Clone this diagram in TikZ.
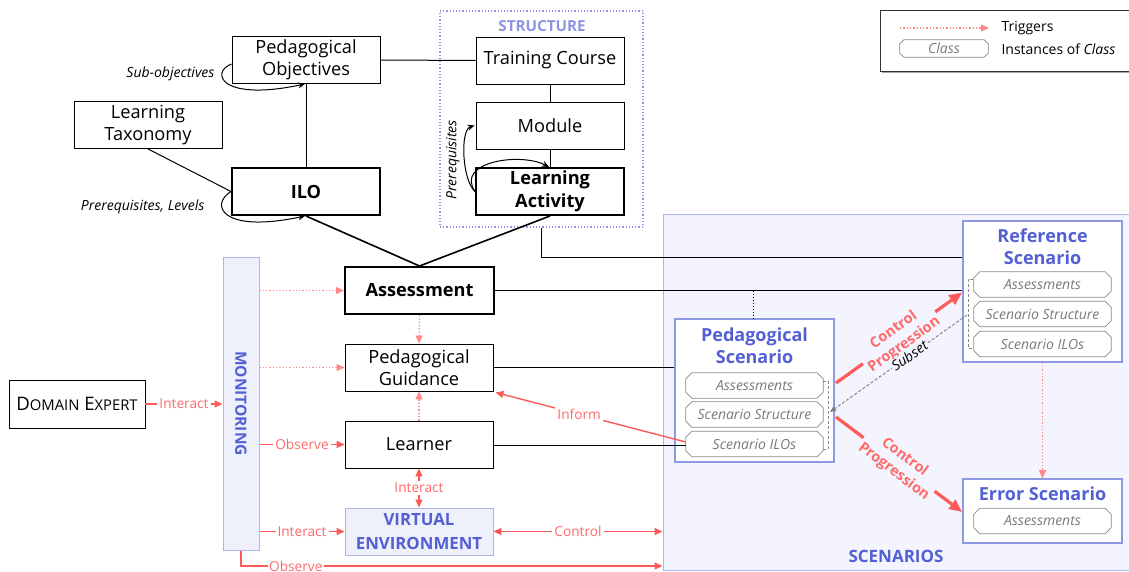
\documentclass[tikz,border=0pt]{standalone}
\usepackage{fontspec}
\setmainfont{Open Sans}
\usetikzlibrary{arrows.meta}
\definecolor{redl}{HTML}{FF5A5A}
\definecolor{redt}{HTML}{FF6B6B}
\definecolor{pinkd}{HTML}{FF8A8A}
\definecolor{blt}{HTML}{5360D4}
\definecolor{bls}{HTML}{8C94E4}
\definecolor{scbg}{HTML}{F3F4FD}
\definecolor{scbd}{HTML}{AEB5EE}
\definecolor{monbg}{HTML}{EEF0FC}
\definecolor{psbd}{HTML}{8E99E3}
\definecolor{tagbd}{HTML}{8A8A8A}
\definecolor{tagtx}{HTML}{7A7A7A}
\newcommand\tagdraw[2][6pt]{\draw[tagline] ([xshift=#1]#2.north west) -- ([xshift=-#1]#2.north east) -- ([yshift=-#1]#2.north east) -- ([yshift=#1]#2.south east) -- ([xshift=-#1]#2.south east) -- ([xshift=#1]#2.south west) -- ([yshift=#1]#2.south west) -- ([yshift=-#1]#2.north west) -- cycle;}
\begin{document}
\begin{tikzpicture}[x=1pt,y=-1pt,
  mainfont/.style={font=\fontsize{18.2}{22.5}\selectfont},
  box/.style={draw, line width=0.9pt, minimum width=148pt, minimum height=47pt, inner sep=0pt, align=center, mainfont},
  thickbox/.style={box, line width=2pt, font=\fontsize{18.2}{22.5}\selectfont\bfseries},
  blk/.style={line width=1pt},
  thk/.style={line width=1.6pt},
  loop/.style={line width=1pt, -{Stealth[length=7pt,width=6pt]}},
  ital/.style={font=\fontsize{14}{16}\selectfont\itshape},
  tag/.style={minimum width=137pt, minimum height=25pt, inner sep=0pt, font=\fontsize{14}{16}\selectfont\itshape, text=tagtx},
  tagline/.style={draw=tagbd, line width=0.8pt},
  scbox/.style={draw=psbd, line width=1.6pt, fill=white, inner sep=0pt},
  sctitle/.style={font=\fontsize{18}{22}\selectfont\bfseries, text=blt, align=center, inner sep=0pt},
  rarr/.style={draw=redl, line width=1.4pt, -{Triangle[length=8pt,width=7pt]}},
  rarr2/.style={draw=redl, line width=1.4pt, {Triangle[length=8pt,width=7pt]}-{Triangle[length=8pt,width=7pt]}},
  rlab/.style={font=\fontsize{13.7}{16}\selectfont, text=redt, inner sep=2pt},
  trig/.style={draw=pinkd, line width=1.3pt, dotted, -{Triangle[length=8pt,width=7pt]}},
  cprog/.style={draw=redl, line width=3.2pt, -{Triangle[length=13pt,width=11pt]}},
  cplab/.style={font=\fontsize{14.5}{18}\selectfont\bfseries, text=redt, align=center, sloped, fill=scbg, inner sep=2pt}
]
\useasboundingbox (0,0) rectangle (1129,572);

% containers
\node[draw=scbd, fill=scbg, line width=1pt, minimum width=468pt, minimum height=356pt, inner sep=0pt] (scen) at (897,392.5) {};
\node[font=\fontsize{17}{20}\selectfont\bfseries, text=blt] (scenlab) at (896,556) {SCENARIOS};
\node[draw=bls, dotted, line width=1.2pt, minimum width=203pt, minimum height=216pt, inner sep=0pt] (struct) at (541.5,119) {};
\node[font=\fontsize{15.2}{18}\selectfont\bfseries, text=bls] (structlab) at (542,26) {STRUCTURE};

% left part
\node[box] (po) at (306,60) {Pedagogical\\Objectives};
\node[box] (lt) at (148,125) {Learning\\Taxonomy};
\node[thickbox] (ilo) at (306,191.5) {ILO};
\node[box] (tc) at (550,60.5) {Training Course};
\node[box] (mod) at (550,125.5) {Module};
\node[thickbox] (la) at (550,191.5) {Learning\\Activity};
\node[thickbox, minimum width=149pt] (asmt) at (419.5,290.5) {Assessment};
\node[box] (pg) at (419,367.5) {Pedagogical\\Guidance};
\node[box] (lrn) at (419,444.5) {Learner};
\node[box, draw=scbd, fill=monbg, font=\fontsize{16.8}{24}\selectfont\bfseries, text=blt] (ve) at (419,531.5) {VIRTUAL\\ENVIRONMENT};
\node[draw=scbd, fill=monbg, line width=1pt, minimum width=36pt, minimum height=293pt, inner sep=0pt] (mon) at (241,403.5) {};
\node[rotate=-90, font=\fontsize{15.5}{18}\selectfont\bfseries, text=blt] (monlab) at (241,403.5) {MONITORING};
\node[box, minimum width=136pt, minimum height=48pt, font=\fontsize{18.6}{22}\selectfont] (de) at (77,404) {D{\fontsize{14.8}{17}\selectfont OMAIN} E{\fontsize{14.8}{17}\selectfont XPERT}};

% black connectors
\draw[blk] (po.east) -- (tc.west);
\draw[blk] (ilo.north) -- (po.south);
\draw[blk] (lt.south) -- (ilo.west);
\draw[blk] (tc.south) -- (mod.north);
\draw[blk] (mod.south) -- (la.north);
\draw[thk] (asmt.north) -- (ilo.south);
\draw[thk] (asmt.north) -- (la.south);

% loops
\draw[loop] ([yshift=-4pt]po.west) .. controls (210,72) and (220,102) .. ([xshift=-1pt]po.south);
\node[ital, anchor=east] (sublab) at (218,74) {Sub-objectives};
\draw[loop] (ilo.west) .. controls (210,204) and (220,234) .. ([xshift=-1pt]ilo.south);
\node[ital, anchor=east] (prlab) at (208,207) {Prerequisites, Levels};
\draw[loop] (la.west) .. controls (462,180) and (460,130) .. ([xshift=-1pt]mod.west);
\draw[loop] (la.west) .. controls (455,162) and (520,152) .. ([xshift=-1pt]la.north);
\node[ital, rotate=90] (prlab2) at (453,160) {Prerequisites};

% scenarios
\node[scbox, minimum width=159pt, minimum height=143pt] (ps) at (754.5,390.5) {};
\node[sctitle] (pstitle) at (754.5,346) {Pedagogical\\Scenario};
\node[tag] (psA) at (754.5,385.5) {Assessments};
\node[tag] (psS) at (754.5,414.5) {Scenario Structure};
\node[tag] (psI) at (754.5,444) {Scenario ILOs};
\tagdraw{psA}\tagdraw{psS}\tagdraw{psI}
\draw[tagbd, dashed, dash pattern=on 3pt off 2pt, line width=0.8pt] (823,381) -- (828,381) -- (828,449) -- (823,449);

\node[scbox, minimum width=159pt, minimum height=141pt] (ref) at (1042.5,291.5) {};
\node[sctitle] (reftitle) at (1042.5,247) {Reference\\Scenario};
\node[tag] (refA) at (1042.5,284.5) {Assessments};
\node[tag] (refS) at (1042.5,314) {Scenario Structure};
\node[tag] (refI) at (1042.5,344) {Scenario ILOs};
\tagdraw{refA}\tagdraw{refS}\tagdraw{refI}
\draw[tagbd, dashed, dash pattern=on 3pt off 2pt, line width=0.8pt] (973,279) -- (968,279) -- (968,348) -- (973,348);

\node[scbox, minimum width=159pt, minimum height=64pt] (err) at (1042.5,511) {};
\node[sctitle] (errtitle) at (1042.5,494) {Error Scenario};
\node[tag] (errA) at (1042.5,521) {Assessments};
\tagdraw{errA}

% links into scenarios
\coordinate (j1) at (541.5,257.5);
\draw[blk] (struct.south -| j1) -- (j1) -- (j1 -| ref.west);
\draw[thk] (asmt.east) -- (asmt.east -| ref.west);
\coordinate (j2) at (753,290.5);
\draw[line width=1pt, dotted] (j2) -- (ps.north -| j2);
\draw[blk] (pg.east) -- (pg.east -| ps.west);
\draw[blk] ([yshift=-1pt]lrn.east) -- ([yshift=-1pt]lrn.east -| psI.west);
\draw[rarr] ([yshift=2pt]psI.west) -- node[rlab, fill=white, pos=0.56] {Inform} ([xshift=2pt,yshift=-1pt]pg.south east);

\coordinate (cp1s) at (836,383);
\coordinate (cp2s) at (836,417);
\draw[cprog] (cp1s) -- node[cplab] {Control\\Progression} ([yshift=-1pt]ref.west);
\draw[cprog] (cp2s) -- node[cplab] {Control\\Progression} ([yshift=-1pt]err.west);
\coordinate (sb1) at (967,315);
\coordinate (sb2) at (830,412);
\draw[draw=gray, line width=0.9pt, dashed, dash pattern=on 3pt off 2pt, -{Triangle[length=6pt,width=5pt]}] (sb1) -- node[sloped, fill=scbg, inner sep=1pt, font=\fontsize{14}{16}\selectfont\itshape, pos=0.42] {Subset} (sb2);
\draw[trig] (ref.south) -- (err.north);

% triggers
\draw[trig] (asmt.south) -- (pg.north);
\draw[trig] (lrn.north) -- (pg.south);
\draw[trig] (mon.east |- asmt.west) -- (asmt.west);
\draw[trig] (mon.east |- pg.west) -- (pg.west);

% red interactions
\draw[rarr] (de.east) -- node[rlab, fill=white] {Interact} (de.east -| mon.west);
\draw[rarr] (mon.east |- lrn.west) -- node[rlab, fill=white] {Observe} (lrn.west);
\draw[rarr] (mon.east |- ve.west) -- node[rlab, fill=white] {Interact} (ve.west);
\draw[rarr2] (lrn.south) -- node[rlab, fill=white] {Interact} (ve.north);
\draw[rarr2] (ve.east) -- node[rlab, fill=white] {Control} (ve.east -| scen.west);
\coordinate (ob1) at (241,566);
\draw[rarr] (mon.south) -- (ob1) -- node[rlab, fill=white, inner sep=1pt, pos=0.13] {Observe} (ob1 -| scen.west);

% legend
\fill[gray!70] (882,12) rectangle (1132,73);
\node[draw=black!80, fill=white, line width=0.9pt, minimum width=252pt, minimum height=61pt, inner sep=0pt] (leg) at (1006,40.5) {};
\coordinate (lg1) at (900,28);
\coordinate (lg2) at (989,28);
\draw[trig] (lg1) -- (lg2);
\node[anchor=west, font=\fontsize{14}{16}\selectfont] (legt1) at (998,28) {Triggers};
\node[tag, minimum width=88pt, minimum height=17pt] (legc) at (944,48.5) {Class};
\tagdraw[4pt]{legc}
\node[anchor=west, font=\fontsize{14}{16}\selectfont] (legt2) at (998,49) {Instances of \textit{Class}};
\end{tikzpicture}
\end{document}
